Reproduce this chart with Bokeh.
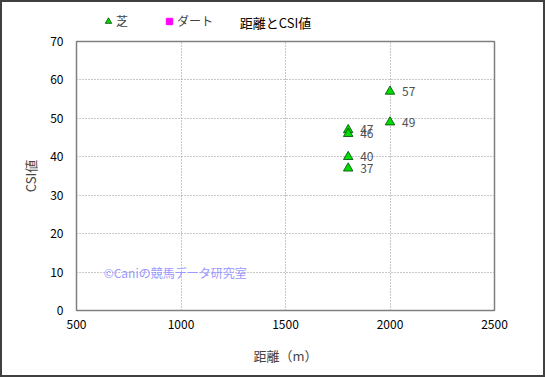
from bokeh.plotting import figure
from bokeh.layouts import column
from bokeh.models import ColumnDataSource, Legend, LegendItem, Label, FixedTicker, Range1d
from bokeh.core.properties import value
from bokeh.embed import file_html
from bokeh.resources import INLINE

distance = [1800, 1800, 1800, 1800, 2000, 2000]
csi = [47, 46, 40, 37, 57, 49]
labels = ["47", "46", "40", "37", "57", "49"]
dirt_distance = []
dirt_csi = []
x_ticks = [500, 1000, 1500, 2000, 2500]
y_ticks = [0, 10, 20, 30, 40, 50, 60, 70]
series_names = ["芝", "ダート"]
title_text = "距離とCSI値"
watermark = "©Caniの競馬データ研究室"

JP = "Noto Sans CJK JP"
TURF = dict(marker="triangle", size=9.5, fill_color="#00dd00", line_color="#004400", line_width=0.8)
DIRT = dict(marker="square", size=8, fill_color="#ff00ff", line_color="#ff00ff")
NAN = float("nan")

# ---- header: title + legend (frame aligned with main chart's frame) ----
top = figure(width=541, height=30, output_backend="svg", toolbar_location=None,
             x_axis_type=None, y_axis_type=None, x_range=Range1d(0, 1), y_range=Range1d(0, 1),
             min_border=0, min_border_left=0, min_border_right=0, min_border_top=0, min_border_bottom=0)
top.outline_line_color = None
top.grid.visible = False
top.background_fill_color = "white"
top.border_fill_color = "white"
t_turf = top.scatter("x", "y", source=ColumnDataSource(dict(x=[NAN], y=[NAN])), **TURF)
t_dirt = top.scatter("x", "y", source=ColumnDataSource(dict(x=[NAN], y=[NAN])), **DIRT)
top.add_layout(Label(x=199, y=10, x_units="screen", y_units="screen", text=title_text,
                     text_align="center", text_baseline="middle", text_font=JP,
                     text_font_size="13px", text_color="#000000"))
legend = Legend(items=[LegendItem(label=series_names[0], renderers=[t_turf]),
                       LegendItem(label=series_names[1], renderers=[t_dirt])],
                orientation="horizontal", location=(24, 3), background_fill_alpha=0,
                border_line_color=None, label_text_font=JP, label_text_font_size="12px",
                label_text_color="#404040", glyph_width=16, glyph_height=16, spacing=25,
                padding=0, margin=0, label_standoff=0, label_height=12)
top.add_layout(legend)

# ---- main chart ----
p = figure(width=541, height=343, output_backend="svg", toolbar_location=None,
           x_range=Range1d(500, 2500), y_range=Range1d(0, 70),
           min_border_left=74, min_border_right=49, min_border_top=9, min_border_bottom=65)
p.background_fill_color = "white"
p.border_fill_color = "white"
p.outline_line_color = "#808080"
p.outline_line_width = 1.5

for ax in (p.xaxis[0], p.yaxis[0]):
    ax.axis_line_color = None
    ax.major_tick_line_color = None
    ax.minor_tick_line_color = None
    ax.major_tick_out = 0
    ax.major_tick_in = 0
    ax.major_label_text_font = JP
    ax.major_label_text_font_size = "12px"
    ax.major_label_text_color = "#000000"
    ax.axis_label_text_font = JP
    ax.axis_label_text_font_size = "13px"
    ax.axis_label_text_font_style = "normal"

p.xaxis.ticker = FixedTicker(ticks=x_ticks)
p.yaxis.ticker = FixedTicker(ticks=y_ticks)
p.xaxis.axis_label = "距離（m）"
p.yaxis.axis_label = "CSI値"
p.xaxis.major_label_standoff = 9
p.yaxis.major_label_standoff = 13
p.xaxis.axis_label_standoff = 14
p.yaxis.axis_label_standoff = 7

p.grid.grid_line_color = "#909090"
p.grid.grid_line_dash = "1 2"
p.grid.grid_line_width = 1

src = ColumnDataSource(dict(x=distance, y=csi, t=labels))
p.scatter("x", "y", source=src, **TURF)
dsrc = ColumnDataSource(dict(x=dirt_distance, y=dirt_csi))
p.scatter("x", "y", source=dsrc, **DIRT)
p.text("x", "y", text="t", source=src, x_offset=12, y_offset=0,
       text_font_size="12px", text_color="#505050", text_baseline="middle",
       text_font=value(JP))

p.add_layout(Label(x=630, y=10, text=watermark, text_color="#9999ff",
                   text_font=JP, text_font_size="12px", text_baseline="middle"))

layout = column(top, p, spacing=0, styles={"border": "2px solid #404040"})

open("out.html", "w").write(file_html(layout, INLINE))
